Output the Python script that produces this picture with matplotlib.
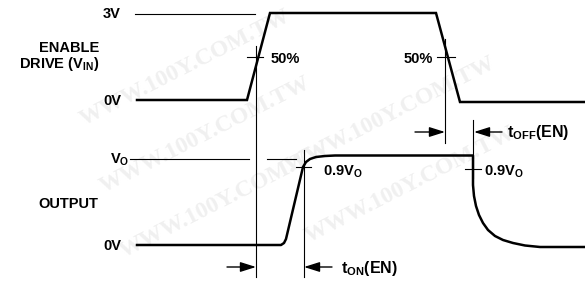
import matplotlib
matplotlib.use("Agg")
import matplotlib.pyplot as plt

plt.rcParams['font.family'] = ['Liberation Sans', 'DejaVu Sans']
plt.rcParams['font.weight'] = 'bold'
plt.rcParams['mathtext.fontset'] = 'custom'
plt.rcParams['mathtext.rm'] = 'Liberation Sans:bold'
plt.rcParams['mathtext.it'] = 'Liberation Sans:bold'
plt.rcParams['mathtext.bf'] = 'Liberation Sans:bold'

# waveforms (pixel coords, y down)
enable_x = [137, 247, 270, 436, 460, 585]
enable_y = [100, 100, 13, 13, 102, 102]

out_x = [137, 281, 284, 286, 303, 306, 310, 316, 325, 335,
         473, 473, 474, 476, 479, 483, 488, 495, 503, 513, 525, 540, 585]
out_y = [245, 245, 243, 239, 167, 162, 159, 157, 156, 155.5,
         155.5, 185, 196, 206, 215, 223, 230, 236, 240, 243, 245.5, 247, 247]

# thin reference lines: (x0, x1, y)
level_lines = [(135, 255, 14), (130, 249, 159), (267, 296, 159)]
# vertical markers: (x, y0, y1)
markers = [(256, 46, 277), (445, 39, 143), (304, 150, 277), (473, 120, 178)]
# crossing ticks: (x0, x1, y)
ticks = [(247, 263, 57), (437, 455, 57), (296, 311, 167), (465, 481, 169)]
# arrows: (tail x, head x, y)
arrows = [(227, 256, 267), (332, 304, 267), (415, 445, 132), (502, 474, 132)]

# watermark centres
marks = [(185, 68), (205, 135), (225, 200), (390, 115), (410, 185)]

fig = plt.figure(figsize=(5.85, 2.83), dpi=100)
ax = fig.add_axes([0, 0, 1, 1])
ax.set_xlim(0, 585)
ax.set_ylim(283, 0)
ax.axis('off')

for wx, wy in marks:
    ax.text(wx, wy, 'WWW.100Y.COM.TW', fontsize=17, family='Liberation Serif', fontweight='bold',
            color='#f0f0f0', rotation=27, ha='center', va='center', zorder=0)

for x0, x1, y in level_lines:
    ax.plot([x0, x1], [y, y], color='black', lw=0.8)
for x, y0, y1 in markers:
    ax.plot([x, x], [y0, y1], color='black', lw=0.8)
for x0, x1, y in ticks:
    ax.plot([x0, x1], [y, y], color='black', lw=0.8)
for xt, xh, y in arrows:
    ax.annotate('', xy=(xh, y), xytext=(xt, y),
                arrowprops=dict(arrowstyle='-|>,head_length=0.95,head_width=0.3',
                                color='black', lw=1.0, shrinkA=0, shrinkB=0))

ax.plot(enable_x, enable_y, color='black', lw=1.8, solid_joinstyle='miter')
ax.plot(out_x, out_y, color='black', lw=1.8, solid_joinstyle='round')

fs = 10.5
ax.text(121, 14, '3V', fontsize=fs, ha='right', va='center')
ax.text(99, 48, 'ENABLE', fontsize=fs, ha='right', va='center')
ax.text(99, 64, r'DRIVE (V$_{\rm IN}$)', fontsize=fs, ha='right', va='center')
ax.text(121, 101, '0V', fontsize=fs, ha='right', va='center')
ax.text(129, 160, r'V$_{\rm O}$', fontsize=fs, ha='right', va='center')
ax.text(98, 204, 'OUTPUT', fontsize=fs, ha='right', va='center')
ax.text(121, 246, '0V', fontsize=fs, ha='right', va='center')
ax.text(271, 59, '50%', fontsize=fs, ha='left', va='center')
ax.text(433, 59, '50%', fontsize=fs, ha='right', va='center')
ax.text(323, 172, r'0.9V$_{\rm O}$', fontsize=fs, ha='left', va='center')
ax.text(484, 172, r'0.9V$_{\rm O}$', fontsize=fs, ha='left', va='center')
ax.text(341, 268, r't$_{\rm ON}$(EN)', fontsize=fs + 1, ha='left', va='center')
ax.text(507, 132, r't$_{\rm OFF}$(EN)', fontsize=fs + 1, ha='left', va='center')

fig.savefig('out.png', dpi=100)
